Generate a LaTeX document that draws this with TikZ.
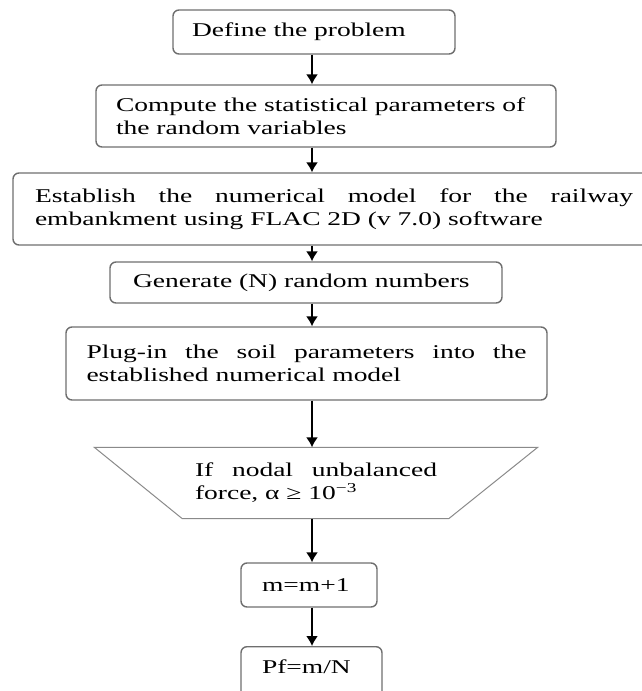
\documentclass[tikz,border=0pt]{standalone}
\usepackage{fontspec}
\setmainfont{Liberation Serif}[FakeStretch=1.41]
\usetikzlibrary{arrows.meta}

\definecolor{boxgray}{HTML}{6E6E6E}
\definecolor{trapgray}{HTML}{8A8A8A}

% a first line spread out to the full width
\newcommand{\spreadline}[2]{\makebox[#1][s]{\spaceskip=0pt\relax #2}}

\tikzset{
  stepbox/.style={draw=boxgray, line width=1.4pt, rounded corners=6pt, align=left,
    inner ysep=0pt, font=\fontsize{19.5}{23}\selectfont,
    execute at begin node={\spaceskip=0pt\relax}},
  flow/.style={-{Latex[length=10pt,width=12pt]}, line width=1.6pt},
}

\begin{document}
\begin{tikzpicture}[x=1pt, y=-1pt]
\useasboundingbox (0,0) rectangle (642,691);
\coordinate (spine) at (312,0);

\node[stepbox, text width=244pt, inner xsep=19pt, minimum height=44pt] (define) at (314,32) {Define the problem};
\node[stepbox, text width=420pt, inner xsep=20pt, minimum height=62pt] (compute) at (326,116)
  {Compute the statistical parameters of\\the random variables};
\node[stepbox, text width=598pt, inner xsep=22pt, minimum height=72pt] (model) at (334,209)
  {\spreadline{598pt}{Establish the numerical model for the railway}\\embankment using FLAC 2D (v 7.0) software};
\node[stepbox, text width=346pt, inner xsep=23pt, minimum height=41pt] (generate) at (306,282.5) {Generate (N) random numbers};
\node[stepbox, text width=440pt, inner xsep=20.5pt, minimum height=73pt] (plug) at (306.5,363.5)
  {\spreadline{440pt}{Plug-in the soil parameters into the}\\established numerical model};
\node[stepbox, draw=none, text width=242pt, inner xsep=100pt, minimum height=70pt] (check) at (316,483)
  {\spreadline{242pt}{If nodal unbalanced}\\force, α ≥ 10\textsuperscript{−3}};
\draw[trapgray, line width=1pt] (check.north west) -- (check.north east)
  -- ([xshift=-89pt]check.south east) -- ([xshift=88pt]check.south west) -- cycle;
\node[stepbox, text width=94pt, inner xsep=21pt, minimum height=44pt] (count) at (309,585) {m=m+1};
\node[stepbox, text width=99pt, inner xsep=21pt, inner ysep=11pt, text height=16pt, text depth=25pt,
  anchor=north] (pf) at (311.5,646) {Pf=m/N};

\draw[flow] (define.south -| spine) -- (compute.north -| spine);
\draw[flow] (compute.south -| spine) -- (model.north -| spine);
\draw[flow] (model.south -| spine) -- (generate.north -| spine);
\draw[flow] (generate.south -| spine) -- (plug.north -| spine);
\draw[flow] (plug.south -| spine) -- (check.north -| spine);
\draw[flow] (check.south -| spine) -- (count.north -| spine);
\draw[flow] (count.south -| spine) -- (pf.north -| spine);
\end{tikzpicture}
\end{document}
